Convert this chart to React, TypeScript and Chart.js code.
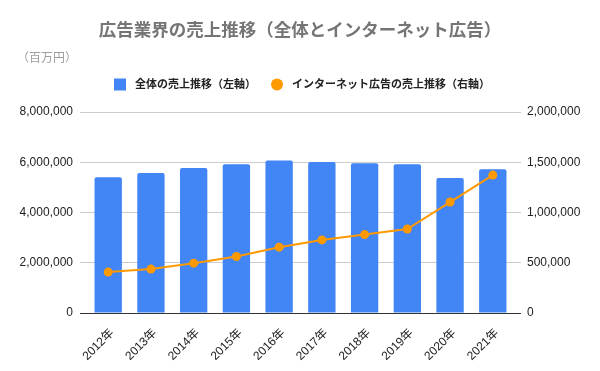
import React, { useEffect, useRef } from 'react';
import { Chart, registerables } from 'chart.js';

Chart.register(...registerables);

const categories = ['2012年', '2013年', '2014年', '2015年', '2016年', '2017年', '2018年', '2019年', '2020年', '2021年'];
const totalSales = [5400000, 5570000, 5770000, 5925000, 6070000, 6005000, 5965000, 5925000, 5370000, 5725000];
const internetSales = [407000, 437000, 496000, 562000, 655000, 727000, 780000, 836000, 1104000, 1372000];
const leftTicks = [0, 2000000, 4000000, 6000000, 8000000];
const rightTicks = [0, 500000, 1000000, 1500000, 2000000];
const titleText = '広告業界の売上推移（全体とインターネット広告）';
const unitText = '（百万円）';
const legendLabels = ['全体の売上推移（左軸）', 'インターネット広告の売上推移（右軸）'];

const BLUE = '#4285f4';
const ORANGE = '#ff9900';
const FONT = "'Liberation Sans', Arial, 'Noto Sans CJK JP', sans-serif";

const fmt = (v: number) => Number(v).toLocaleString('en-US');

const headerPlugin = {
  id: 'header',
  afterDraw(chart: any) {
    const ctx = chart.ctx as CanvasRenderingContext2D;
    const w = chart.width;
    ctx.save();
    // title
    ctx.fillStyle = '#757575';
    ctx.font = `bold 17.5px ${FONT}`;
    ctx.textAlign = 'center';
    ctx.textBaseline = 'middle';
    ctx.fillText(titleText, w / 2, 31);
    // unit
    ctx.fillStyle = '#9e9e9e';
    ctx.font = `12px ${FONT}`;
    ctx.textAlign = 'left';
    ctx.fillText(unitText, 17, 58.5);
    // legend
    ctx.font = `bold 11px ${FONT}`;
    const box = 12;
    const gapIn = 9;
    const gapOut = 15;
    const t1 = ctx.measureText(legendLabels[0]).width;
    const t2 = ctx.measureText(legendLabels[1]).width;
    const total = box + gapIn + t1 + gapOut + box + gapIn + t2;
    let x = w / 2 - total / 2 + 2;
    const y = 84.5;
    ctx.fillStyle = BLUE;
    ctx.fillRect(x, y - box / 2, box, box);
    x += box + gapIn;
    ctx.fillStyle = '#222222';
    ctx.fillText(legendLabels[0], x, y);
    x += t1 + gapOut;
    ctx.fillStyle = ORANGE;
    ctx.beginPath();
    ctx.arc(x + box / 2, y, box / 2, 0, Math.PI * 2);
    ctx.fill();
    x += box + gapIn;
    ctx.fillStyle = '#222222';
    ctx.fillText(legendLabels[1], x, y);
    ctx.restore();
  },
};

export default function App() {
  const ref = useRef<HTMLCanvasElement | null>(null);
  useEffect(() => {
    if (!ref.current) return;
    const chart = new Chart(ref.current, {
      data: {
        datasets: [
          {
            type: 'line',
            label: legendLabels[1],
            data: internetSales.map((v, i) => ({ x: i, y: v })),
            yAxisID: 'y1',
            borderColor: ORANGE,
            backgroundColor: ORANGE,
            borderWidth: 2,
            pointRadius: 4.5,
            pointBorderWidth: 0,
            pointBackgroundColor: ORANGE,
            tension: 0,
            order: 1,
          },
          {
            type: 'bar',
            label: legendLabels[0],
            data: totalSales.map((v, i) => ({ x: i, y: v })),
            yAxisID: 'y',
            backgroundColor: BLUE,
            borderWidth: 0,
            borderRadius: { topLeft: 2, topRight: 2, bottomLeft: 0, bottomRight: 0 },
            borderSkipped: 'bottom',
            categoryPercentage: 1,
            barPercentage: 0.64,
            order: 2,
          },
        ] as any,
      },
      options: {
        animation: false,
        responsive: false,
        events: [],
        layout: { padding: { top: 112, left: 0, right: 0, bottom: 0 } },
        plugins: {
          legend: { display: false },
          title: { display: false },
          tooltip: { enabled: false },
        },
        scales: {
          x: {
            type: 'linear',
            offset: false,
            min: -0.66,
            max: 9.66,
            grid: { display: false, offset: false },
            border: { display: false },
            afterBuildTicks: (axis: any) => {
              axis.ticks = categories.map((_, i) => ({ value: i }));
            },
            afterFit: (axis: any) => {
              axis.height = 58;
            },
            ticks: {
              autoSkip: false,
              maxRotation: 45,
              minRotation: 45,
              padding: 5,
              labelOffset: 4,
              color: '#222222',
              font: { family: FONT, size: 12 },
              callback: (v: any) => categories[v] ?? '',
            },
          },
          y: {
            type: 'linear',
            position: 'left',
            min: leftTicks[0],
            max: leftTicks[leftTicks.length - 1],
            afterBuildTicks: (axis: any) => {
              axis.ticks = leftTicks.map((v) => ({ value: v }));
            },
            afterFit: (axis: any) => {
              axis.width = 80;
            },
            grid: {
              drawTicks: false,
              color: (c: any) => (c.tick && c.tick.value === 0 ? '#333333' : '#cccccc'),
              lineWidth: 1,
            },
            border: { display: false },
            ticks: {
              padding: 7,
              color: '#222222',
              font: { family: FONT, size: 12 },
              callback: (v: any) => fmt(v),
            },
          },
          y1: {
            type: 'linear',
            position: 'right',
            min: rightTicks[0],
            max: rightTicks[rightTicks.length - 1],
            afterBuildTicks: (axis: any) => {
              axis.ticks = rightTicks.map((v) => ({ value: v }));
            },
            afterFit: (axis: any) => {
              axis.width = 79;
            },
            grid: { display: false, drawTicks: false },
            border: { display: false },
            ticks: {
              padding: 6,
              color: '#222222',
              font: { family: FONT, size: 12 },
              callback: (v: any) => fmt(v),
            },
          },
        },
      } as any,
      plugins: [headerPlugin],
    });
    return () => chart.destroy();
  }, []);

  return (
    <div style={{ position: 'absolute', left: 0, top: 0, width: 600, height: 371, background: '#ffffff' }}>
      <canvas ref={ref} width={600} height={371} style={{ display: 'block' }} />
    </div>
  );
}
